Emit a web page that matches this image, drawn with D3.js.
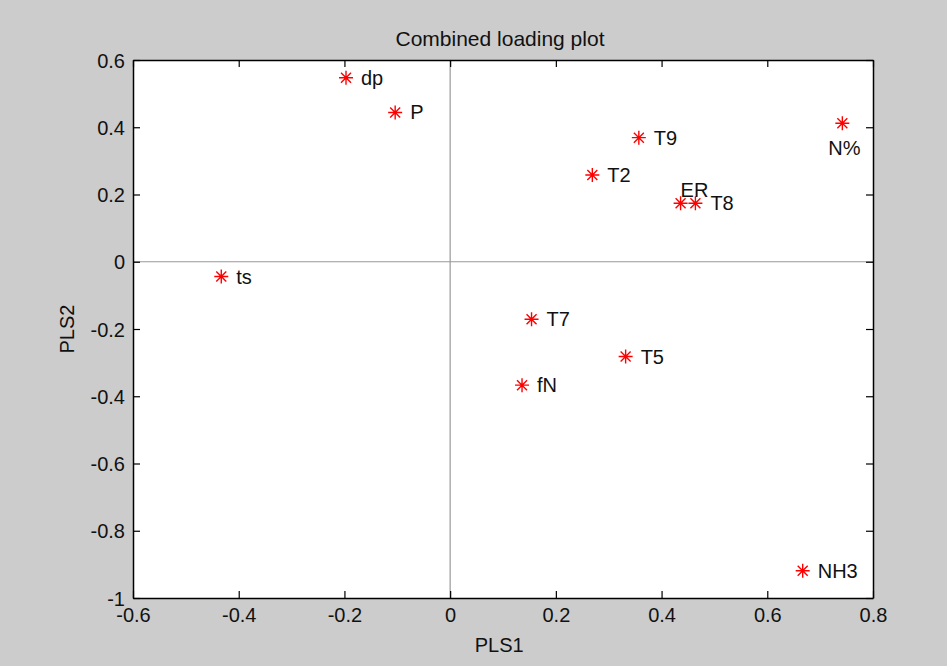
<!DOCTYPE html>
<html>
<head>
<meta charset="utf-8">
<script src="https://cdn.jsdelivr.net/npm/d3@7"></script>
<style>
  html, body { margin: 0; padding: 0; background: #cccccc; }
  text { font-family: "Liberation Sans", Arial, sans-serif; fill: #111; }
</style>
</head>
<body>
<div id="chart"></div>
<script>
// loadings
const names = ["dp", "P", "ts", "T2", "T9", "ER", "T8", "N%", "T7", "T5", "fN", "NH3"];
const pls1 = [-0.197, -0.104, -0.433, 0.269, 0.357, 0.436, 0.464, 0.742, 0.154, 0.332, 0.136, 0.667];
const pls2 = [0.547, 0.444, -0.044, 0.258, 0.369, 0.174, 0.174, 0.412, -0.171, -0.282, -0.367, -0.919];

const xTicks = [-0.6, -0.4, -0.2, 0, 0.2, 0.4, 0.6, 0.8];
const yTicks = [-1, -0.8, -0.6, -0.4, -0.2, 0, 0.2, 0.4, 0.6];

const width = 947, height = 666;
const margin = { top: 60, right: 74, bottom: 68, left: 133 };
const plotW = width - margin.left - margin.right;
const plotH = height - margin.top - margin.bottom;

const svg = d3.select("#chart")
    .append("svg")
    .attr("width", width)
    .attr("height", height);

svg.append("rect")
    .attr("width", width)
    .attr("height", height)
    .attr("fill", "#cccccc");

const g = svg.append("g")
    .attr("transform", `translate(${margin.left},${margin.top})`);

const x = d3.scaleLinear().domain([-0.6, 0.8]).range([0, plotW]);
const y = d3.scaleLinear().domain([-1, 0.6]).range([plotH, 0]);

// white axes area
g.append("rect")
    .attr("width", plotW)
    .attr("height", plotH)
    .attr("fill", "#fff");

// zero reference lines
g.append("line")
    .attr("x1", x(0)).attr("x2", x(0))
    .attr("y1", 0).attr("y2", plotH)
    .attr("stroke", "#999").attr("stroke-width", 1.2);
g.append("line")
    .attr("x1", 0).attr("x2", plotW)
    .attr("y1", y(0)).attr("y2", y(0))
    .attr("stroke", "#999").attr("stroke-width", 1.2);

// axes, ticks pointing inward like matlab, box on all four sides
const fmt = d => String(d);
const tickLen = 7;

const axes = [
    { axis: d3.axisBottom(x).tickValues(xTicks).tickFormat(fmt).tickSizeInner(-tickLen), t: `translate(0,${plotH})`, labels: true },
    { axis: d3.axisTop(x).tickValues(xTicks).tickFormat("").tickSizeInner(-tickLen), t: "translate(0,0)", labels: false },
    { axis: d3.axisLeft(y).tickValues(yTicks).tickFormat(fmt).tickSizeInner(-tickLen), t: "translate(0,0)", labels: true },
    { axis: d3.axisRight(y).tickValues(yTicks).tickFormat("").tickSizeInner(-tickLen), t: `translate(${plotW},0)`, labels: false }
];

axes.forEach(a => {
    const ax = g.append("g")
        .attr("transform", a.t)
        .call(a.axis.tickSizeOuter(0).tickPadding(0));
    ax.select(".domain").attr("stroke", "#000").attr("stroke-width", 1.5);
    ax.selectAll(".tick line").attr("stroke", "#000").attr("stroke-width", 1.2);
    ax.selectAll(".tick text")
        .attr("font-size", "20px")
        .attr("fill", "#111");
});

// place tick labels
g.selectAll("g").filter(function () { return this.getAttribute("transform") === `translate(0,${plotH})`; })
    .selectAll(".tick text")
    .attr("y", 24)
    .attr("dy", "0");
g.selectAll("g").filter(function () { return this.getAttribute("transform") === "translate(0,0)"; })
    .selectAll(".tick text")
    .attr("x", -8)
    .attr("dy", "0.35em");

// title and axis labels
svg.append("text")
    .attr("x", margin.left + plotW / 2 - 3)
    .attr("y", 46)
    .attr("text-anchor", "middle")
    .attr("font-size", "21px")
    .text("Combined loading plot");

svg.append("text")
    .attr("x", margin.left + x(0) + 49)
    .attr("y", 652)
    .attr("text-anchor", "middle")
    .attr("font-size", "20px")
    .text("PLS1");

svg.append("text")
    .attr("transform", `translate(74,${margin.top + plotH / 2}) rotate(-90)`)
    .attr("text-anchor", "middle")
    .attr("font-size", "20px")
    .text("PLS2");

// matlab style '*' marker: plus with a shorter cross
const arm = 7, diag = 5;
const starPath = `M${-arm},0L${arm},0M0,${-arm}L0,${arm}` +
    `M${-diag},${-diag}L${diag},${diag}M${-diag},${diag}L${diag},${-diag}`;

const pts = names.map((n, i) => ({ name: n, v1: pls1[i], v2: pls2[i] }));

g.selectAll(".pt")
    .data(pts)
    .enter()
    .append("path")
    .attr("class", "pt")
    .attr("d", starPath)
    .attr("transform", d => `translate(${x(d.v1)},${y(d.v2)})`)
    .attr("stroke", "#ff0000")
    .attr("stroke-width", 1.4)
    .attr("fill", "none");

// text labels: most sit to the right, a couple moved to avoid overlap
const labelPlace = { "ER": "above", "N%": "below" };

g.selectAll(".lbl")
    .data(pts)
    .enter()
    .append("text")
    .attr("class", "lbl")
    .attr("font-size", "20px")
    .attr("x", d => {
        const p = labelPlace[d.name];
        if (p === "above") return x(d.v1);
        if (p === "below") return x(d.v1) + 2;
        return x(d.v1) + 15;
    })
    .attr("y", d => {
        const p = labelPlace[d.name];
        if (p === "above") return y(d.v2) - 6;
        if (p === "below") return y(d.v2) + 32;
        return y(d.v2) + 7;
    })
    .attr("text-anchor", d => labelPlace[d.name] === "below" ? "middle" : "start")
    .text(d => d.name);
</script>
</body>
</html>
